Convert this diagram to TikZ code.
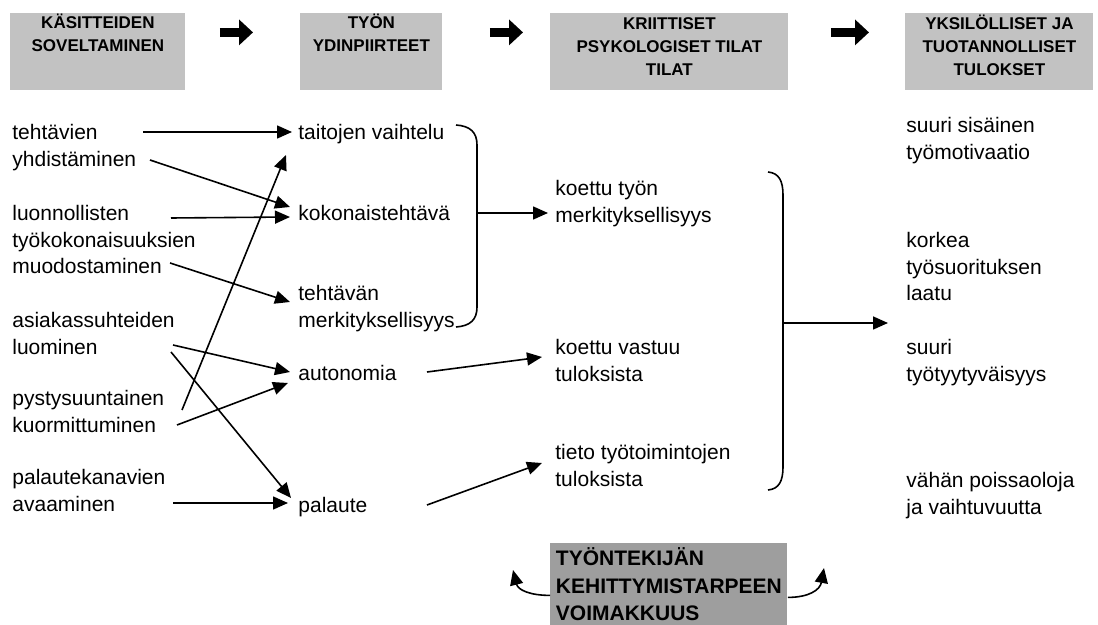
\documentclass[tikz,border=0pt]{standalone}
\usepackage{fontspec}
\setmainfont{Liberation Sans}
\usetikzlibrary{arrows.meta}
\definecolor{hdrgray}{gray}{0.76}
\definecolor{devgray}{gray}{0.62}
\tikzset{
  txt/.style={anchor=north west, inner sep=0pt, align=left, font=\fontsize{10.5pt}{13.25pt}\selectfont},
  hdrbox/.style={anchor=north west, fill=hdrgray, inner sep=0pt, minimum height=38.5pt},
  hdrtxt/.style={anchor=north, inner sep=0pt, align=center, font=\fontsize{8.5pt}{11.5pt}\selectfont\bfseries},
  devbox/.style={anchor=north west, fill=devgray, inner xsep=1pt, inner ysep=1.5pt, align=left,
    minimum width=118.5pt, minimum height=41pt, font=\fontsize{10.5pt}{13.75pt}\selectfont\bfseries},
  conn/.style={line width=0.8pt, -{Triangle[length=7.5pt,width=6.5pt]}},
  blockarrow/.style={line width=4.8pt, -{Triangle[length=7pt,width=12.5pt]}},
  bracket/.style={line width=0.8pt}
}
\begin{document}
\begin{tikzpicture}[x=0.5pt, y=-0.5pt]
\useasboundingbox (0,0) rectangle (1098,625);

\node[hdrbox, minimum width=87.5pt] (kas) at (10,13) {};
\node[hdrbox, minimum width=71pt] (tyon) at (300,13) {};
\node[hdrbox, minimum width=119pt] (krii) at (550,13) {};
\node[hdrbox, minimum width=94pt] (yksi) at (905,13) {};
\node[hdrtxt] (kastxt) at ([yshift=-0.5pt]kas.north) {KÄSITTEIDEN\\SOVELTAMINEN};
\node[hdrtxt] (tyontxt) at ([yshift=-0.5pt]tyon.north) {TYÖN\\YDINPIIRTEET};
\node[hdrtxt] (kriitxt) at ([yshift=-2pt]krii.north) {KRIITTISET\\PSYKOLOGISET TILAT\\TILAT};
\node[hdrtxt] (yksitxt) at ([yshift=-1pt]yksi.north) {YKSILÖLLISET JA\\TUOTANNOLLISET\\TULOKSET};
\draw[blockarrow] ([shift={(34,-19.5)}]kas.east) -- ([shift={(-47,-19.5)}]tyon.west);
\draw[blockarrow] ([shift={(47,-19.5)}]tyon.east) -- ([shift={(-27,-19.5)}]krii.west);
\draw[blockarrow] ([shift={(42,-19.5)}]krii.east) -- ([shift={(-36,-19.5)}]yksi.west);

\node[txt] (tehtavien) at (12,124) {tehtävien\\yhdistäminen};
\node[txt] (luonnol) at (12,205) {luonnollisten\\työkokonaisuuksien\\muodostaminen};
\node[txt] (asiakas) at (12,312) {asiakassuhteiden\\luominen};
\node[txt] (pysty) at (12,390) {pystysuuntainen\\kuormittuminen};
\node[txt] (palkan) at (12,469) {palautekanavien\\avaaminen};

\node[txt] (taitojen) at (298,124) {taitojen vaihtelu};
\node[txt] (kokon) at (298,205) {kokonaistehtävä};
\node[txt] (tmerk) at (298,285) {tehtävän\\merkityksellisyys};
\node[txt] (auton) at (298,365) {autonomia};
\node[txt] (palaute) at (298,497) {palaute};

\node[txt] (kmerk) at (555,180) {koettu työn\\merkityksellisyys};
\node[txt] (kvast) at (555,339) {koettu vastuu\\tuloksista};
\node[txt] (tieto) at (555,444) {tieto työtoimintojen\\tuloksista};

\node[txt] (motiv) at (906,117) {suuri sisäinen\\työmotivaatio};
\node[txt] (laatu) at (906,232) {korkea\\työsuorituksen\\laatu};
\node[txt] (tyyt) at (906,339) {suuri\\työtyytyväisyys};
\node[txt] (poissa) at (906,472) {vähän poissaoloja\\ja vaihtuvuutta};

\draw[conn] ([shift={(131,8)}]tehtavien.north west) -- ([shift={(-6,8)}]taitojen.north west);
\draw[conn] ([shift={(138,36)}]tehtavien.north west) -- ([shift={(-8,2)}]kokon.north west);
\draw[conn] ([shift={(159,13)}]luonnol.north west) -- ([shift={(-8,12)}]kokon.north west);
\draw[conn] ([shift={(158,58)}]luonnol.north west) -- ([shift={(-8,17)}]tmerk.north west);
\draw[conn] ([shift={(161,33)}]asiakas.north west) -- ([shift={(-8,7)}]auton.north west);
\draw[conn] ([shift={(159,40)}]asiakas.north west) -- ([shift={(-7,1)}]palaute.north west);
\draw[conn] ([shift={(170,20)}]pysty.north west) -- ([shift={(-12,31)}]taitojen.north west);
\draw[conn] ([shift={(165,35)}]pysty.north west) -- ([shift={(-10,18)}]auton.north west);
\draw[conn] ([shift={(161,34)}]palkan.north west) -- ([shift={(-10,6)}]palaute.north west);

\draw[conn] ([shift={(129,7)}]auton.north west) -- ([shift={(-13,18)}]kvast.north west);
\draw[conn] ([shift={(129,8)}]palaute.north west) -- ([shift={(-13,19)}]tieto.north west);

\draw[bracket] (456,125) .. controls (470,126) and (477,132) .. (477,145) -- (477,307)
  .. controls (477,320) and (470,326) .. (456,327);
\coordinate (brace1) at (477,213);
\draw[conn] (brace1) -- ([shift={(-7,33)}]kmerk.north west);

\draw[bracket] (768,172) .. controls (779,173) and (783,181) .. (783,195) -- (783,467)
  .. controls (783,481) and (779,489) .. (768,490);
\coordinate (brace2) at (783,323);
\coordinate (tulos) at (888,323);
\draw[conn] (brace2) -- (tulos);

\node[devbox] (dev) at (550,543) {TYÖNTEKIJÄN\\KEHITTYMISTARPEEN\\VOIMAKKUUS};
\coordinate (devl) at (513,570);
\coordinate (devr) at (824,568);
\draw[conn] ([shift={(0,11)}]dev.west) .. controls +(-20,0) and +(5,20) .. (devl);
\draw[conn] ([shift={(0,13)}]dev.east) .. controls +(21,0) and +(-4,22) .. (devr);
\end{tikzpicture}
\end{document}
